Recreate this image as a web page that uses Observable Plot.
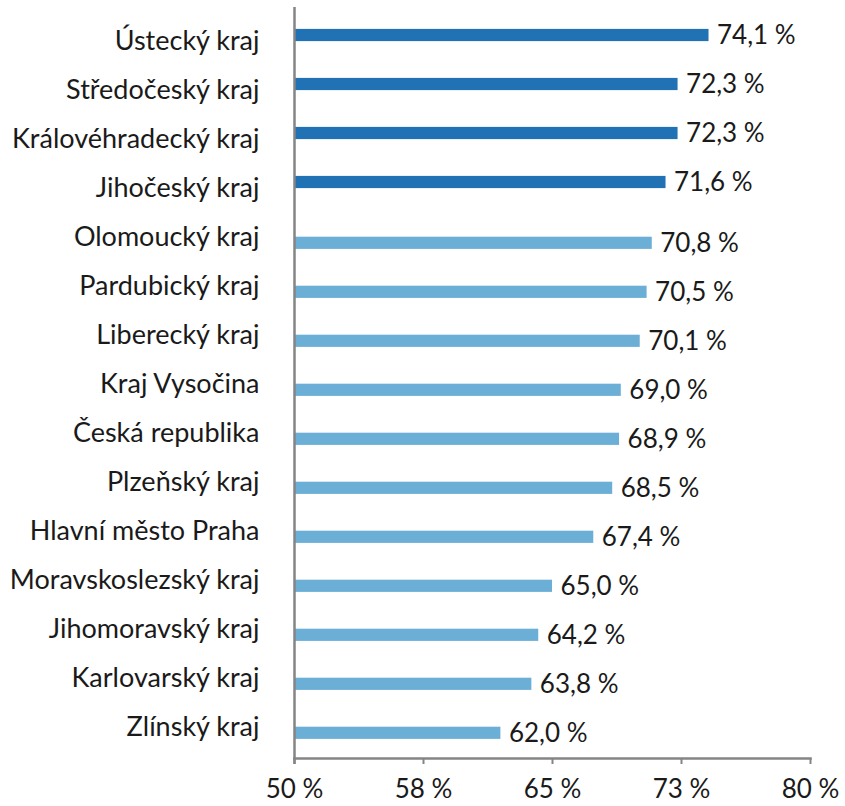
<!DOCTYPE html>
<html><head><meta charset="utf-8">
<script src="https://cdn.jsdelivr.net/npm/d3@7"></script>
<script src="https://cdn.jsdelivr.net/npm/@observablehq/plot@0.6"></script>
<style>body{margin:0;background:#fff} svg{display:block}</style>
</head><body><div id="chart"></div>
<script>
const regions = ["Ústecký kraj","Středočeský kraj","Královéhradecký kraj","Jihočeský kraj","Olomoucký kraj","Pardubický kraj","Liberecký kraj","Kraj Vysočina","Česká republika","Plzeňský kraj","Hlavní město Praha","Moravskoslezský kraj","Jihomoravský kraj","Karlovarský kraj","Zlínský kraj"];
const values = [74.1,72.3,72.3,71.6,70.8,70.5,70.1,69.0,68.9,68.5,67.4,65.0,64.2,63.8,62.0];
const groups = ["top","top","top","top","rest","rest","rest","rest","rest","rest","rest","rest","rest","rest","rest"];
const xTicks = [50,57.5,65,72.5,80];
const xTickLabels = ["50 %","58 %","65 %","73 %","80 %"];
const baseline = 50;

const data = regions.map((r,i)=>({region:r, value:values[i], group:groups[i]}));
const top4 = data.filter(d=>d.group==="top");
const rest = data.filter(d=>d.group==="rest");
const fmt = v => v.toFixed(1).replace(".", ",") + " %";
const font = "Lato, sans-serif";
const axisGray = "#858585";
const ink = "#1a1a1a";

const chart = Plot.plot({
  width: 845, height: 806,
  marginTop: 7, marginBottom: 48, marginLeft: 294, marginRight: 35,
  style: {fontFamily: font, fontSize: "27px", color: ink, background: "#fff"},
  x: {domain: [50, 80]},
  y: {domain: regions, padding: 0, insetTop: 3.1, insetBottom: 1.6},
  color: {domain: ["top","rest"], range: ["#2171b5","#6baed6"]},
  marks: [
    Plot.barX(top4, {x1: () => baseline, x2: "value", y: "region", fill: "group", insetTop: 12.9, insetBottom: 23.9}),
    Plot.barX(rest, {x1: () => baseline, x2: "value", y: "region", fill: "group", insetTop: 24.7, insetBottom: 12.1}),
    Plot.text(top4, {x: "value", y: "region", text: d => fmt(d.value), dx: 8, dy: -5.5, textAnchor: "start", fill: ink, fontSize: 26}),
    Plot.text(rest, {x: "value", y: "region", text: d => fmt(d.value), dx: 8, dy: 6.3, textAnchor: "start", fill: ink, fontSize: 26}),
    Plot.ruleX([baseline], {stroke: axisGray, strokeWidth: 2.5, insetBottom: -6}),
    Plot.frame({anchor: "bottom", stroke: axisGray, strokeWidth: 2.5}),
    Plot.axisY({tickSize: 0, tickPadding: 35, fontSize: 27, fill: ink, label: null}),
    Plot.axisX({ticks: xTicks, tickFormat: d => xTickLabels[xTicks.indexOf(d)], tickSize: 6, tickPadding: 15, stroke: axisGray, strokeWidth: 2, fill: ink, fontSize: 26, label: null})
  ]
});
document.getElementById("chart").append(chart);
</script></body></html>
